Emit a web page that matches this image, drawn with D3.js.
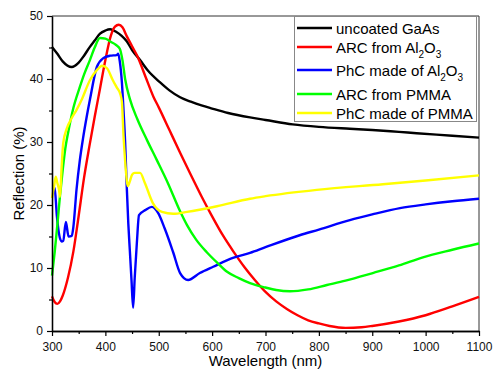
<!DOCTYPE html>
<html>
<head>
<meta charset="utf-8">
<script src="https://cdn.jsdelivr.net/npm/d3@7"></script>
<style>
  body { margin: 0; background: #fff; }
  svg { display: block; font-family: "Liberation Sans", Arial, sans-serif; }
</style>
</head>
<body>
<svg id="chart" width="493" height="370"></svg>
<script>
// reflection spectra, wavelength in nm, reflection in %
const wlGaAs = [300,310,320,337,350,360,371,380,390,400,409,420,430,440,450,465,480,502,520,540,560,580,600,630,671,700,751,800,858,900,950,983,1050,1100];
const rGaAs = [45.1,44.0,42.8,41.9,42.6,43.7,45.1,46.1,47.2,47.7,47.9,47.5,46.9,46.0,44.6,43.0,41.3,39.5,38.2,37.1,36.4,35.8,35.3,34.6,33.9,33.5,32.8,32.4,32.1,31.9,31.6,31.4,31.0,30.7];

const wlArcAl = [300,305,310,315,320,330,340,350,360,370,380,390,400,410,418,425,432,440,450,460,475,490,500,520,540,560,580,600,620,640,660,680,700,720,740,760,780,800,820,850,880,900,950,1000,1050,1100];
const rArcAl = [5.5,4.6,4.3,4.7,5.6,8.5,12.6,18.3,24.3,29.3,34.0,38.5,43.0,46.8,48.3,48.6,48.2,46.8,45.2,43.6,40.4,37.2,35.5,31.9,28.3,24.8,21.4,18.2,15.2,12.6,10.2,8.1,6.2,4.7,3.5,2.5,1.7,1.2,0.8,0.5,0.6,0.8,1.5,2.5,3.9,5.4];

const wlPhcAl = [300,305,309,313,318,321,326,331,337,340,346,352,358,365,371,384,396,409,421,424,427,431,434,437,440,443,446,449,452,455,459,463,475,487,499,511,527,540,555,577,602,639,671,700,764,800,858,900,952,1000,1050,1100];
const rPhcAl = [22.8,22.7,18.4,15.5,14.2,14.3,17.3,15.0,15.1,16.5,22.5,27.0,30.5,34.0,36.7,41.9,43.3,43.7,43.8,44.0,42.8,39.4,35.0,30.0,23.0,17.0,12.5,8.0,3.7,8.5,14.0,18.4,19.2,19.7,18.7,16.3,12.5,9.2,8.1,9.2,10.2,11.6,12.4,13.3,15.2,16.1,17.6,18.5,19.5,20.1,20.6,21.0];

const wlArcPmma = [300,305,310,315,320,325,330,340,352,360,371,380,390,400,410,420,427,432,437,446,460,478,496,517,540,553,570,590,610,628,650,671,700,720,746,780,815,850,901,950,995,1050,1100];
const rArcPmma = [8.8,12.5,16.8,21.5,25.5,29.0,31.4,35.4,38.7,40.7,43.0,45.0,46.5,46.4,45.9,45.4,44.8,43.0,40.0,36.8,33.6,30.3,27.2,23.5,19.0,16.8,14.5,12.5,10.8,9.4,8.4,7.6,6.9,6.5,6.3,6.6,7.3,8.0,9.2,10.4,11.7,12.9,13.9];

const wlPhcPmma = [300,304,307,310,313,315,318,321,328,337,346,356,371,384,394,403,414,421,428,431,434,437,440,442,446,450,455,465,474,489,506,527,553,609,671,700,796,920,1000,1100];
const rPhcPmma = [21.1,23.0,24.5,23.5,22.5,21.3,26.0,29.8,32.2,33.8,35.1,36.8,39.8,41.4,42.1,41.7,39.8,38.7,37.6,36.3,31.0,27.0,24.0,23.0,23.8,24.8,25.1,25.1,23.5,20.3,18.9,18.6,18.9,19.8,21.0,21.4,22.4,23.3,23.9,24.7];

const xTicks = [300,400,500,600,700,800,900,1000,1100];
const xMinor = [350,450,550,650,750,850,950,1050];
const yTicks = [0,10,20,30,40,50];
const yMinor = [5,15,25,35,45];

const series = [
  {name: ["uncoated GaAs"], wl: wlGaAs, r: rGaAs, color: "#000000"},
  {name: ["ARC from Al", "2", "O", "3"], wl: wlArcAl, r: rArcAl, color: "#ff0000"},
  {name: ["PhC made of Al", "2", "O", "3"], wl: wlPhcAl, r: rPhcAl, color: "#0000ff"},
  {name: ["ARC from PMMA"], wl: wlArcPmma, r: rArcPmma, color: "#00ff00"},
  {name: ["PhC made of PMMA"], wl: wlPhcPmma, r: rPhcPmma, color: "#ffff00"}
];

const plotL = 52, plotR = 479, plotT = 16, plotB = 331;
const svg = d3.select("#chart");

const x = d3.scaleLinear().domain([300, 1100]).range([plotL, plotR]);
const y = d3.scaleLinear().domain([0, 50]).range([plotB, plotT]);

// frame top/right
svg.append("path")
  .attr("d", `M${plotL},${plotT}H${plotR}V${plotB}`)
  .attr("fill", "none").attr("stroke", "#333").attr("stroke-width", 1);

// curves
const line = d3.line()
  .x(d => x(d[0]))
  .y(d => y(d[1]))
  .curve(d3.curveMonotoneX);

series.forEach(s => {
  svg.append("path")
    .datum(s.wl.map((w, i) => [w, s.r[i]]))
    .attr("d", line)
    .attr("fill", "none")
    .attr("stroke", s.color)
    .attr("stroke-width", 2.4)
    .attr("stroke-linejoin", "round");
});

// axes
svg.append("g")
  .attr("transform", `translate(0,${plotB})`)
  .call(d3.axisBottom(x).tickValues(xTicks).tickFormat(d3.format("d")).tickSize(5).tickPadding(6).tickSizeOuter(0));
svg.append("g")
  .attr("transform", `translate(0,${plotB})`)
  .call(d3.axisBottom(x).tickValues(xMinor).tickSize(3).tickFormat("").tickSizeOuter(0));

svg.append("g")
  .attr("transform", `translate(${plotL},0)`)
  .call(d3.axisLeft(y).tickValues(yTicks).tickFormat(d3.format("d")).tickSize(5).tickPadding(4).tickSizeOuter(0));
svg.append("g")
  .attr("transform", `translate(${plotL},0)`)
  .call(d3.axisLeft(y).tickValues(yMinor).tickSize(3).tickFormat("").tickSizeOuter(0));

svg.selectAll(".domain").attr("stroke", "#000").attr("stroke-width", 1.3);
svg.selectAll(".tick line").attr("stroke", "#000").attr("stroke-width", 1.2);
svg.selectAll(".tick text")
  .attr("font-size", 12)
  .attr("font-family", "Liberation Sans, Arial, sans-serif")
  .attr("fill", "#111");

// axis titles
svg.append("text")
  .attr("x", (plotL + plotR) / 2)
  .attr("y", 366)
  .attr("text-anchor", "middle")
  .attr("font-size", 15)
  .text("Wavelength (nm)");

svg.append("text")
  .attr("transform", `translate(24,${(plotT + plotB) / 2}) rotate(-90)`)
  .attr("text-anchor", "middle")
  .attr("font-size", 15)
  .text("Reflection (%)");

// legend
const legend = svg.append("g");
legend.append("rect")
  .attr("x", 294.5).attr("y", 16.5)
  .attr("width", 182).attr("height", 105)
  .attr("fill", "#fff").attr("stroke", "#888").attr("stroke-width", 1);

const legendY = [28, 47, 70, 94, 113];
series.forEach((s, i) => {
  legend.append("line")
    .attr("x1", 297).attr("x2", 332)
    .attr("y1", legendY[i]).attr("y2", legendY[i])
    .attr("stroke", s.color).attr("stroke-width", 2.6);
  const t = legend.append("text")
    .attr("x", 336).attr("y", legendY[i] + 5.5)
    .attr("font-size", 15);
  s.name.forEach((part, j) => {
    if (j % 2 === 1) {
      t.append("tspan").attr("font-size", 10).attr("dy", 5).text(part);
    } else {
      t.append("tspan").attr("dy", j === 0 ? 0 : -5).text(part);
    }
  });
});
</script>
</body>
</html>
